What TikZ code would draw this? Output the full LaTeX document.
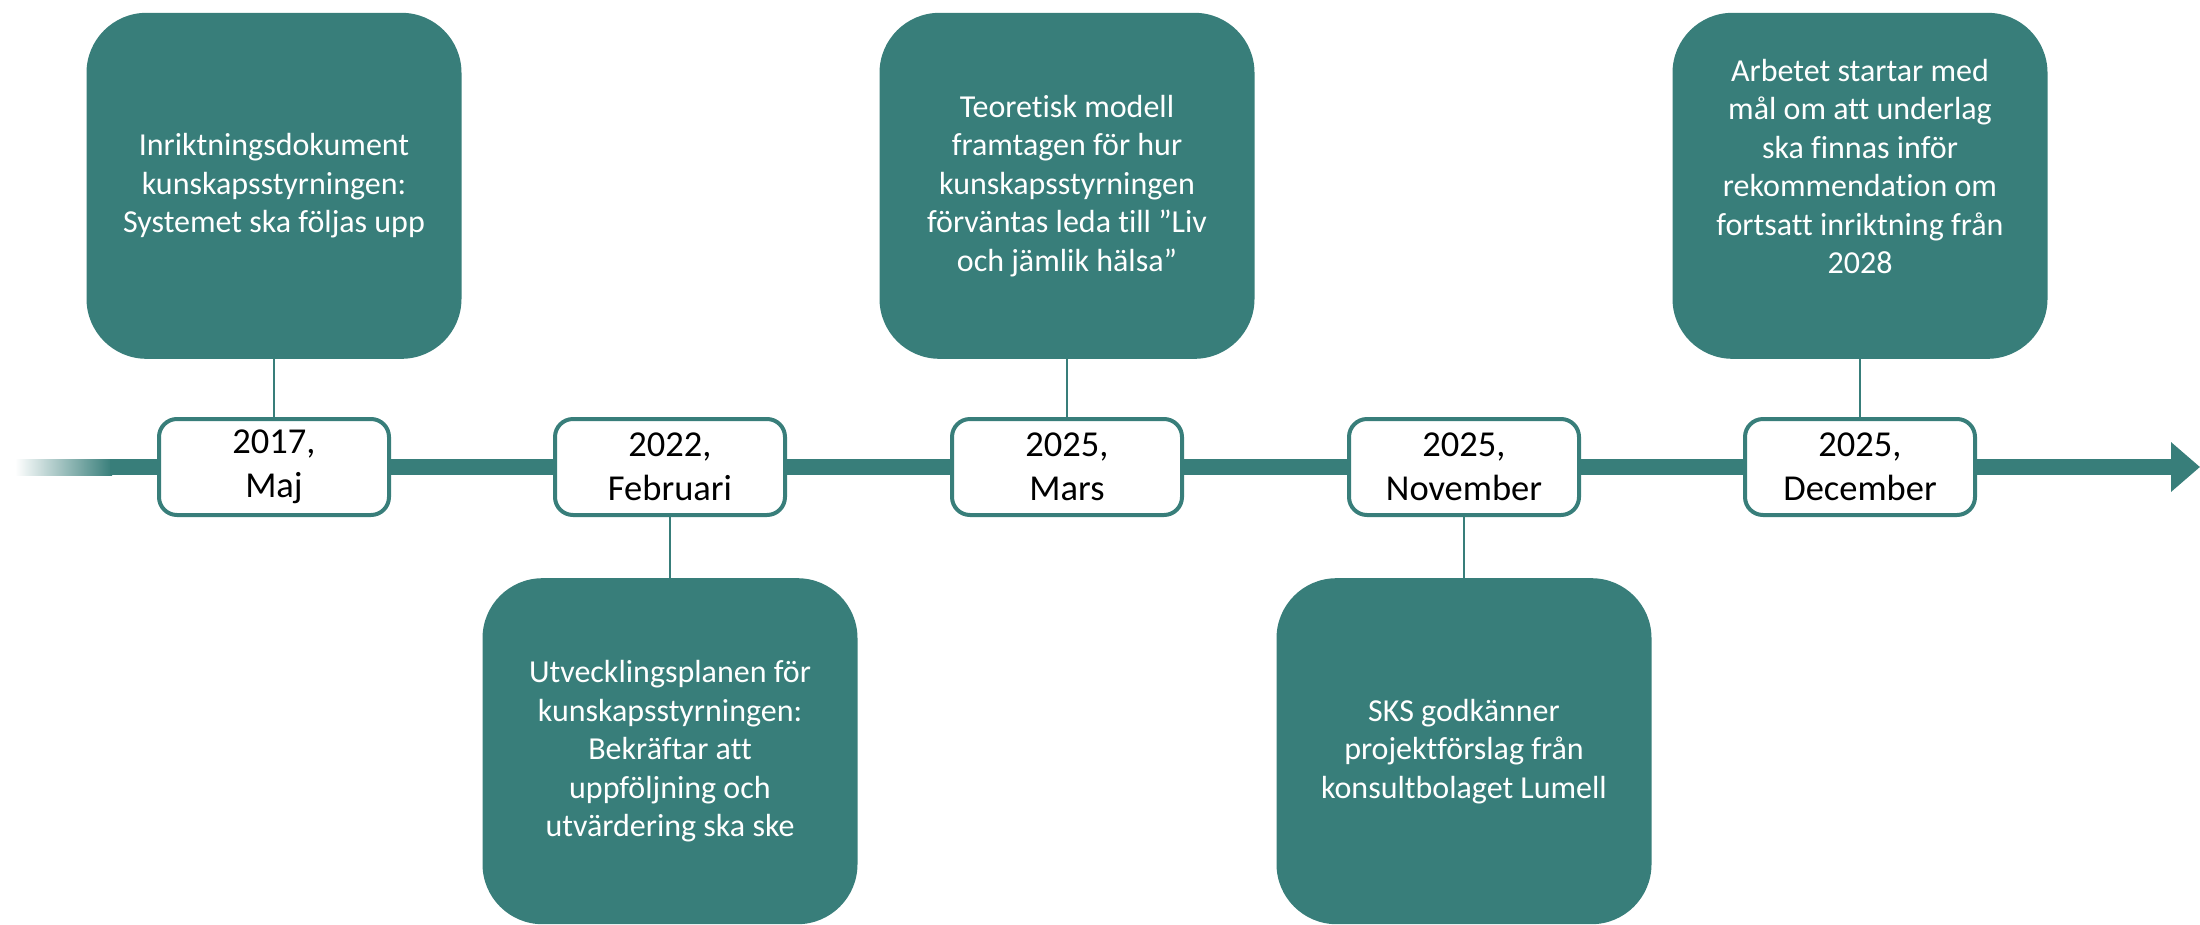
\documentclass[tikz,border=0pt]{standalone}
\usepackage{fontspec}
\setmainfont{Carlito}[Ligatures=NoCommon]
\usetikzlibrary{positioning,arrows.meta}

\definecolor{teal}{RGB}{56,126,122}

\tikzset{
  event/.style={fill=teal,text=white,rounded corners=60pt,minimum width=375pt,minimum height=346pt,inner sep=0pt,align=center,font=\fontsize{32}{38.5}\selectfont},
  datebox/.style={draw=teal,line width=4pt,fill=white,rounded corners=18pt,minimum width=230pt,minimum height=96pt,inner sep=0pt,align=center,font=\fontsize{36.5}{44}\selectfont},
  conn/.style={teal,line width=2pt},
  timeline/.style={teal,line width=16pt}
}

\begin{document}
\begin{tikzpicture}[x=1pt,y=1pt]
        \useasboundingbox (0,0) rectangle (2200,-924);
        % time axis
        \coordinate (fadeR) at (110,-467);
        \coordinate (tipR) at (2200,-467);
        \shade[left color=white,right color=teal] (15,-459) rectangle (112,-475);
        \draw[timeline,-{Triangle[length=29pt,width=48pt]}] (fadeR) -- (tipR);
        % dates
        \node[datebox] (d2017) at (274,-467) {2017,\\Maj};
        \node[datebox] (d2022) at (670,-467) {2022,\\Februari};
        \node[datebox] (d2025a) at (1067,-467) {2025,\\Mars};
        \node[datebox] (d2025b) at (1464,-467) {2025,\\November};
        \node[datebox] (d2025c) at (1860,-467) {2025,\\December};
        % events
        \node[event,above=58pt of d2017] (inriktning) {Inriktningsdokument\\kunskapsstyrningen:\\Systemet ska följas upp};
        \node[event,below=61pt of d2022] (utveckling) {Utvecklingsplanen för\\kunskapsstyrningen:\\Bekräftar att\\uppföljning och\\utvärdering ska ske};
        \node[event,above=58pt of d2025a] (modell) {Teoretisk modell\\framtagen för hur\\kunskapsstyrningen\\förväntas leda till ”Liv\\och jämlik hälsa”};
        \node[event,below=61pt of d2025b] (sks) {SKS godkänner\\projektförslag från\\konsultbolaget Lumell};
        \node[event,above=58pt of d2025c] (arbetet) {Arbetet startar med\\mål om att underlag\\ska finnas inför\\rekommendation om\\fortsatt inriktning från\\2028\\\mbox{}};
        % connectors
        \draw[conn] (inriktning) -- (d2017);
        \draw[conn] (d2022) -- (utveckling);
        \draw[conn] (modell) -- (d2025a);
        \draw[conn] (d2025b) -- (sks);
        \draw[conn] (arbetet) -- (d2025c);
    \end{tikzpicture}
\end{document}
